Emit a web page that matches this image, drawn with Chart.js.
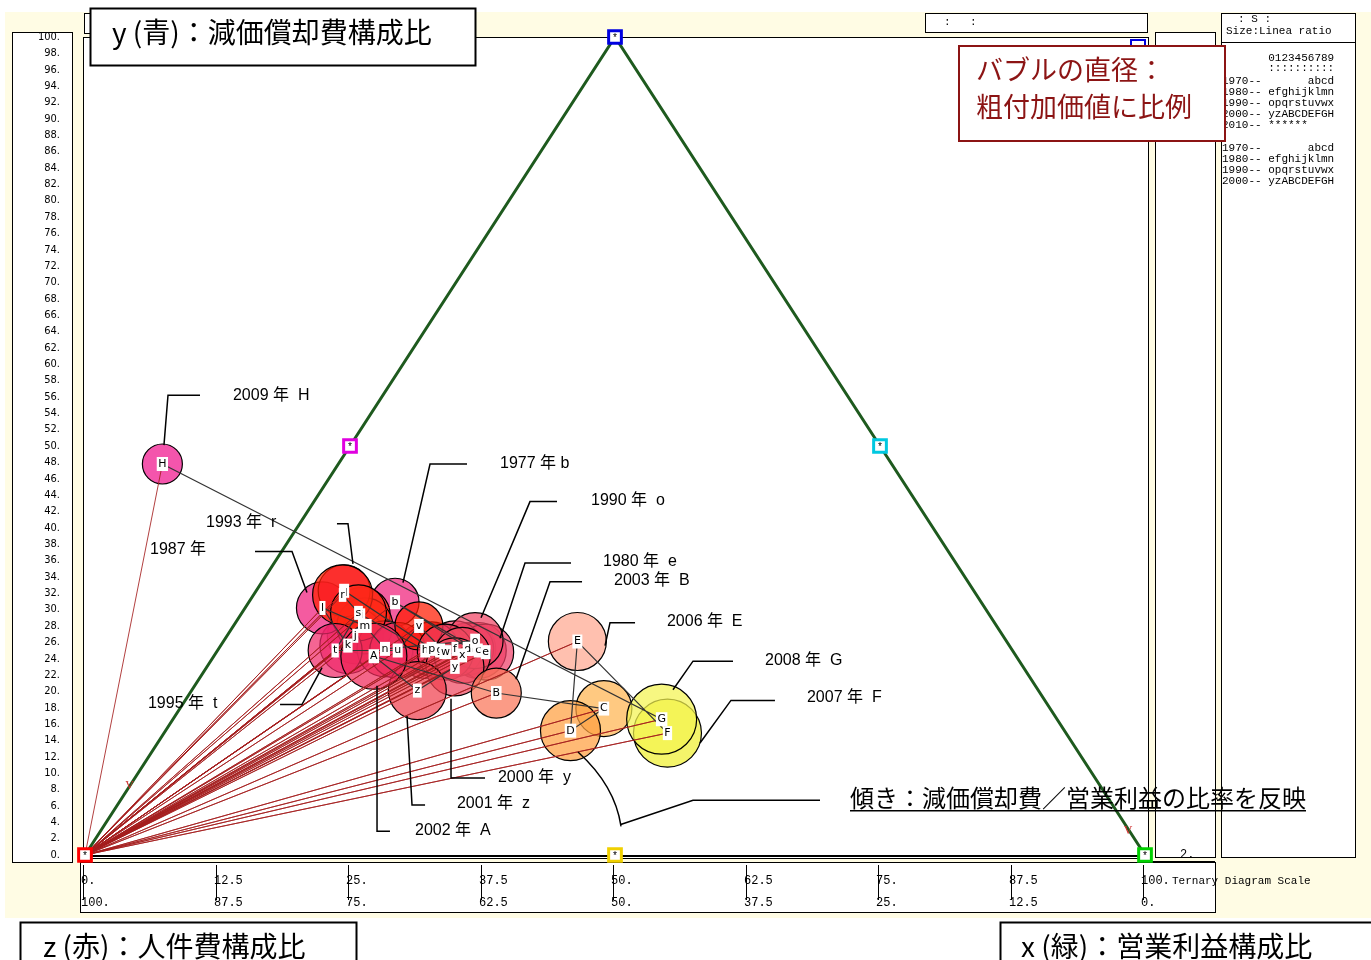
<!DOCTYPE html>
<html>
<head>
<meta charset="utf-8">
<script src="https://cdn.jsdelivr.net/npm/chart.js@4/dist/chart.umd.min.js"></script>
<style>
  html, body { margin: 0; padding: 0; background: #fff; }
  canvas { display: block; }
</style>
</head>
<body>
<canvas id="ternary" width="1371" height="960" style="width:1371px;height:960px"></canvas>
<script>
// ---- data ----
// one bubble per year 1976..2009, letter codes as in the legend panel
const years   = [1976,1977,1978,1979,1980,1981,1982,1983,1984,1985,1986,1987,1988,1989,
                 1990,1991,1992,1993,1994,1995,1996,1997,1998,1999,
                 2000,2001,2002,2003,2004,2005,2006,2007,2008,2009];
const letters = ['a','b','c','d','e','f','g','h','i','j','k','l','m','n',
                 'o','p','q','r','s','t','u','v','w','x',
                 'y','z','A','B','C','D','E','F','G','H'];
// x: operating profit share (%), y: depreciation share (%); labour share z = 100 - x - y
const profitShare = [23.7,13.8,24.6,23.5,25.4,22.3,21.0,19.6,11.5,12.1,12.0, 7.3,12.4,15.7,
                     23.7,20.1, 8.3, 8.4,11.0,11.1,17.0,17.5,21.6,23.4,
                     23.4,21.3,15.1,28.9,40.0,38.2,33.4,47.5,46.1,-16.6];
const deprShare   = [25.2,30.9,25.0,25.2,24.8,25.2,25.0,25.0,29.3,26.8,25.6,30.2,28.0,25.2,
                     26.2,25.2,32.3,31.8,29.6,25.0,25.0,28.0,24.8,24.4,
                     23.0,20.1,24.3,19.8,17.9,15.2,26.1,14.9,16.6,47.8];
// bubble radius ~ gross value added
const bubbleSize  = [26,24,28,26,28,28,27,28,28,28,28,26,28,28,
                     28,27,26,30,28,27,28,24,28,28,
                     29,29,33,25,28,30,29,34,35,20];
const bubbleColors = ['#f03c64','#f0207a','#f04060','#f04868','#f0406a','#f04064','#f03860','#f03a5c',
                      '#ff2a10','#f0306a','#f02a70','#f01c7c','#ff2410','#f0305a',
                      '#f04464','#f03c60','#f0187c','#ff2000','#ff2a18','#f02a6a','#f03062','#ff1a00','#f03c5c','#f04a60',
                      '#f04860','#f0404e','#f02a5a','#fa7458','#ffb450','#ffa040','#ffa890','#f0f030','#f4f450','#f0148c'];

// ternary frame: vertices and edge midpoints on the 0..100 plot scale
const vertexX      = [0, 50, 25, 75, 50, 100];
const vertexY      = [0, 100, 50, 50, 0, 0];
const vertexColors = ['#ff0000','#0000e0','#e000e0','#00c8e0','#f0d000','#00d000'];

// bottom scale
const scaleTicks  = [0, 12.5, 25, 37.5, 50, 62.5, 75, 87.5, 100];
const scaleTop    = ['0.','12.5','25.','37.5','50.','62.5','75.','87.5','100.'];
const scaleBottom = ['100.','87.5','75.','62.5','50.','37.5','25.','12.5','0.'];

// callouts: text anchor and leader polyline, in plot units
const callouts = [
  { text: '2009 年  H', at: [13.96, 56.2], line: [[10.85,56.2],[7.83,56.2],[7.45,50.1]] },
  { text: '1977 年 b',  at: [39.15, 47.8], line: [[36.04,47.8],[32.55,47.8],[30.0,33.3]] },
  { text: '1990 年  o', at: [47.74, 43.3], line: [[44.53,43.2],[41.98,43.2],[37.36,29.0]] },
  { text: '1980 年  e', at: [48.87, 35.9], line: [[45.85,35.7],[41.51,35.7],[39.15,26.5]] },
  { text: '2003 年  B', at: [49.91, 33.5], line: [[46.89,33.4],[43.87,33.4],[40.66,21.5]] },
  { text: '2006 年  E', at: [54.9, 28.5],  line: [[51.89,28.4],[49.53,28.4],[49.06,25.6]] },
  { text: '2008 年  G', at: [64.15, 23.8], line: [[61.13,23.7],[57.36,23.7],[55.47,20.2]] },
  { text: '2007 年  F', at: [68.11, 19.3], line: [[65.09,18.9],[60.94,18.9],[58.02,13.7]] },
  { text: '2000 年  y', at: [38.96, 9.5],  line: [[37.74,9.4],[34.53,9.4],[34.53,19.1]] },
  { text: '2001 年  z', at: [35.09, 6.3],  line: [[32.08,6.1],[30.85,6.1],[30.38,17.0]] },
  { text: '2002 年  A', at: [31.13, 3.0],  line: [[28.77,2.9],[27.55,2.9],[27.55,20.7]] },
  { text: '1995 年  t', at: [5.94, 18.5],  line: [[18.4,18.4],[20.47,18.4],[22.36,22.9]] },
  { text: '1987 年',    at: [6.13, 37.3],  line: [[16.04,37.1],[19.53,37.1],[20.94,32.1]] },
  { text: '1993 年  r', at: [11.42, 40.6], line: [[23.77,40.5],[24.81,40.5],[25.28,35.6]] },
];
const slopeNote = { text: '傾き：減価償却費／営業利益の比率を反映', at: [72.17, 7.0],
                    line: [[69.34,6.7],[57.36,6.7],[50.47,3.7]],
                    arc: [[46.51,12.6],[50.0,8.5],[50.57,3.5]] };

// ---- derived points ----
const bubblePts = years.map((yr, i) => ({
  x: profitShare[i] + deprShare[i] / 2,
  y: deprShare[i],
  r: bubbleSize[i],
}));
const fanPts = bubblePts.flatMap(p => [{ x: 0, y: 0 }, { x: p.x, y: p.y }]);
const trailPts = bubblePts.map(p => ({ x: p.x, y: p.y }));
const vertexPts = vertexX.map((x, i) => ({ x, y: vertexY[i] }));

const CREAM = '#fffce4';
const MONO = '"Liberation Mono", "DejaVu Sans Mono", monospace';
const JP = '"Noto Sans CJK JP", sans-serif';
const LABEL = '"Liberation Sans", "Noto Sans CJK JP", sans-serif';

function box(c, x, y, w, h, lw) {
  c.fillStyle = '#fff';
  c.fillRect(x, y, w, h);
  c.lineWidth = lw || 1;
  c.strokeStyle = '#000';
  c.strokeRect(x + 0.5, y + 0.5, w, h);
}

const framePlugin = {
  id: 'frame',
  beforeDraw(chart) {
    const c = chart.ctx;
    const xs = chart.scales.x;
    c.save();
    c.fillStyle = '#fff';
    c.fillRect(0, 0, chart.width, chart.height);
    c.fillStyle = CREAM;
    c.fillRect(5, 12, 1366, 906);

    box(c, 84, 13, 16, 20);
    box(c, 925, 13, 222, 19);
    box(c, 12, 32, 60, 830);
    box(c, 83, 37, 1065, 821);
    box(c, 1155, 32, 60, 825);
    box(c, 1221, 13, 134, 844);
    box(c, 80, 862, 1135, 50);

    // hidden blue marker at top right corner
    c.strokeStyle = '#0000e0';
    c.lineWidth = 2;
    c.strokeRect(1131, 40, 14, 10);

    // base of triangle
    c.strokeStyle = '#000';
    c.lineWidth = 2;
    c.beginPath();
    c.moveTo(80, 856); c.lineTo(1150, 856);
    c.moveTo(1148, 862); c.lineTo(1215, 862);
    c.stroke();
    c.fillStyle = '#000';
    c.font = '12px ' + MONO;
    c.textBaseline = 'alphabetic';
    c.fillText('2.', 1180, 858);

    // bottom ternary scale
    c.lineWidth = 1;
    scaleTicks.forEach((v, i) => {
      const px = Math.round(xs.getPixelForValue(v)) - 2;
      c.beginPath();
      c.moveTo(px + 0.5, 865); c.lineTo(px + 0.5, 900);
      c.stroke();
      c.textAlign = 'left';
      c.textBaseline = 'middle';
      c.fillText(scaleTop[i], px - 2, 881);
      c.fillText(scaleBottom[i], px - 2, 903);
    });
    c.font = '11px ' + MONO;
    c.fillText('Ternary Diagram Scale', 1172, 881);

    // top info box
    c.fillText(':', 944, 22);
    c.fillText(':', 970, 22);

    // legend panel
    c.beginPath();
    c.moveTo(1221, 42.5); c.lineTo(1355, 42.5);
    c.stroke();
    c.fillText(': S :', 1238, 19);
    c.fillText('Size:Linea ratio', 1226, 31);
    const legendLines = [
      [58, '       0123456789'],
      [68, '       ::::::::::'],
      [81, '1970--       abcd'],
      [92, '1980-- efghijklmn'],
      [103, '1990-- opqrstuvwx'],
      [114, '2000-- yzABCDEFGH'],
      [125, '2010-- ******'],
      [148, '1970--       abcd'],
      [159, '1980-- efghijklmn'],
      [170, '1990-- opqrstuvwx'],
      [181, '2000-- yzABCDEFGH'],
    ];
    c.font = '11px ' + MONO;
    legendLines.forEach(([y, t]) => c.fillText(t, 1222, y));
    c.restore();
  },
  afterDatasetsDraw(chart) {
    const c = chart.ctx;
    const xs = chart.scales.x, ys = chart.scales.y;
    const P = ([x, y]) => [xs.getPixelForValue(x), ys.getPixelForValue(y)];
    c.save();

    // letters on bubbles
    const bubbles = chart.getDatasetMeta(3).data;
    c.font = '11px "DejaVu Sans", sans-serif';
    c.textAlign = 'center';
    c.textBaseline = 'middle';
    bubbles.forEach((el, i) => {
      const w = c.measureText(letters[i]).width + 3;
      c.fillStyle = '#fff';
      c.fillRect(el.x - w / 2, el.y - 7, w, 14);
      c.fillStyle = '#000';
      c.fillText(letters[i], el.x, el.y);
    });

    // vertex stars
    const marks = chart.getDatasetMeta(0).data;
    c.font = '10px ' + MONO;
    marks.forEach(el => {
      c.fillStyle = '#000';
      c.fillText('*', el.x, el.y + 1);
    });

    // small red V marks on the sides
    c.fillStyle = '#d03030';
    c.font = '12px "Liberation Serif", serif';
    [[4.2, 8.5], [98.4, 3.0]].forEach(p => {
      const [x, y] = P(p);
      c.fillText('V', x, y);
    });

    // callouts
    c.strokeStyle = '#000';
    c.lineWidth = 1.5;
    c.fillStyle = '#000';
    c.font = '16px ' + LABEL;
    c.textAlign = 'left';
    callouts.forEach(co => {
      c.beginPath();
      co.line.forEach((pt, k) => {
        const [x, y] = P(pt);
        if (k === 0) c.moveTo(x, y); else c.lineTo(x, y);
      });
      c.stroke();
      const [tx, ty] = P(co.at);
      c.fillText(co.text, tx, ty);
    });

    // slope note
    c.beginPath();
    slopeNote.line.forEach((pt, k) => {
      const [x, y] = P(pt);
      if (k === 0) c.moveTo(x, y); else c.lineTo(x, y);
    });
    const [a0, a1, a2] = slopeNote.arc.map(P);
    c.moveTo(a0[0], a0[1]);
    c.quadraticCurveTo(a1[0], a1[1], a2[0], a2[1]);
    c.stroke();
    c.font = '24px ' + JP;
    const [nx, ny] = P(slopeNote.at);
    c.fillText(slopeNote.text, nx, ny);
    const nw = c.measureText(slopeNote.text).width;
    c.lineWidth = 1.5;
    c.beginPath();
    c.moveTo(nx, ny + 13); c.lineTo(nx + nw, ny + 13);
    c.stroke();
    c.restore();
  },
  afterDraw(chart) {
    const c = chart.ctx;
    c.save();
    c.textBaseline = 'middle';
    c.textAlign = 'left';

    box(c, 90, 8, 385, 57, 2);
    box(c, 20, 922, 336, 48, 2);
    box(c, 1000, 922, 375, 48, 2);
    c.fillStyle = '#000';
    c.font = '28px ' + JP;
    c.fillText('y (青)：減価償却費構成比', 112, 32);
    c.fillText('z (赤)：人件費構成比', 43, 946);
    c.fillText('x (緑)：営業利益構成比', 1021, 946);

    c.fillStyle = '#fff';
    c.fillRect(958, 46, 267, 95);
    c.strokeStyle = '#8c1414';
    c.lineWidth = 2;
    c.strokeRect(959, 46, 266, 95);
    c.fillStyle = '#8c1414';
    c.font = '27px ' + JP;
    c.fillText('バブルの直径：', 976, 70);
    c.fillText('粗付加価値に比例', 976, 107);
    c.restore();
  }
};

new Chart(document.getElementById('ternary'), {
  type: 'bubble',
  data: {
    datasets: [
      {
        type: 'scatter',
        data: vertexPts,
        pointStyle: 'rect',
        pointRadius: 9,
        pointBorderWidth: 3,
        pointBackgroundColor: '#fff',
        pointBorderColor: vertexColors,
        clip: false,
      },
      {
        type: 'line',
        data: trailPts,
        borderColor: '#333',
        borderWidth: 1.2,
        pointRadius: 0,
        tension: 0,
        fill: false,
      },
      {
        type: 'line',
        data: fanPts,
        borderColor: 'rgba(165,30,30,0.85)',
        borderWidth: 1,
        pointRadius: 0,
        tension: 0,
        fill: false,
      },
      {
        data: bubblePts,
        backgroundColor: bubbleColors.map(col => col + 'b8'),
        borderColor: '#000',
        borderWidth: 1.2,
        clip: false,
      },
      {
        type: 'line',
        data: [{ x: 0, y: 0 }, { x: 50, y: 100 }, { x: 100, y: 0 }],
        borderColor: '#1e5a1e',
        borderWidth: 3,
        pointRadius: 0,
        tension: 0,
        fill: false,
        clip: false,
      },
    ],
  },
  options: {
    responsive: false,
    animation: false,
    events: [],
    layout: { padding: { left: 12, right: 226, top: 37, bottom: 105 } },
    plugins: { legend: { display: false }, tooltip: { enabled: false } },
    scales: {
      x: { type: 'linear', min: 0, max: 100, display: false },
      y: {
        type: 'linear',
        min: 0,
        max: 100,
        position: 'left',
        afterFit: (s) => { s.width = 73; },
        grid: { display: false, drawTicks: false },
        border: { display: false },
        ticks: {
          stepSize: 2,
          autoSkip: false,
          padding: 25,
          color: '#000',
          font: { family: '"DejaVu Sans Condensed", "Liberation Mono"', size: 11 },
          callback: (v) => v + '.',
        },
      },
    },
  },
  plugins: [framePlugin],
});
</script>
</body>
</html>
